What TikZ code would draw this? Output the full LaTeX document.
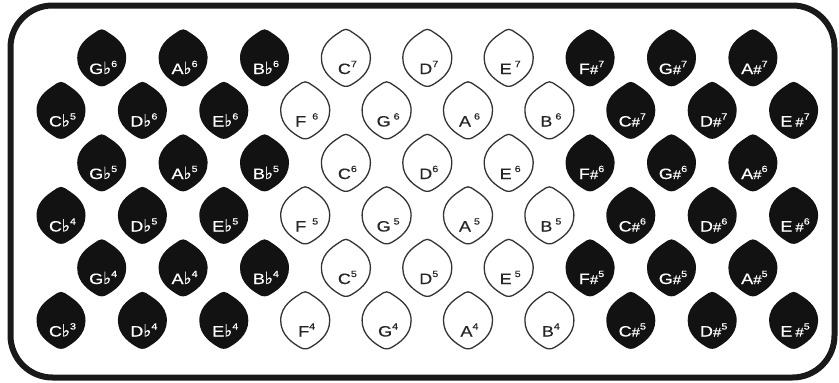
\documentclass[tikz,border=0pt]{standalone}
\usepackage{fontspec}
\setmainfont{Liberation Sans}
\newfontfamily\keyfont[FakeStretch=1.2,FakeBold=0.4]{Liberation Sans}
\newfontfamily\dejavu[FakeBold=0.4]{DejaVu Sans}
\newcommand\fl{{\dejavu\fontsize{17}{17}\selectfont ♭}}
\newcommand\sh{{\fontsize{12.5}{12}\selectfont\#}}
\newcommand\up[1]{\raisebox{7pt}{\fontsize{9}{9}\selectfont #1}}
\newcommand\gp{\hspace{3pt}}
\newcommand\keyoutline{(-3.5,27.6) .. controls (-1.5,29) and (1.5,29) .. (3.5,27.6)
  .. controls (10,23) and (24.5,16) .. (24.5,0)
  .. controls (24.5,-15) and (12,-23) .. (4.5,-27.2)
  .. controls (2,-28.7) and (-2,-28.7) .. (-4.5,-27.2)
  .. controls (-12,-23) and (-24.5,-15) .. (-24.5,0)
  .. controls (-24.5,16) and (-10,23) .. cycle}
\tikzset{
  x=1pt, y=1pt,
  frame/.style={draw=black!90, line width=6pt, rounded corners=42pt, inner sep=0pt},
  keytext/.style={anchor=base, inner sep=0pt, font=\keyfont\fontsize{15}{16}\selectfont},
  pics/bkey/.style={code={
    \path[fill=black!93] \keyoutline;
    \node[keytext, text=white] (-t) at (1.5,-16) {#1};
  }},
  pics/wkey/.style={code={
    \path[draw=black!80, line width=1.3pt, fill=white] \keyoutline;
    \node[keytext, text=black!85] (-t) at (1.5,-16) {#1};
  }},
}
\newcommand\K[7]{\pic (#4) at ({61+40.7*#1},{-#2}) {#3={#5#6\up{#7}}};}
\begin{document}
\begin{tikzpicture}
\useasboundingbox (0,0) rectangle (839,-383);
\node[frame, minimum width=824pt, minimum height=372pt] (frame) at (422.5,-191.5) {};
% row 1
\K{1}{58}{bkey}{gb6}{G}{\fl}{6}
\K{3}{58}{bkey}{ab6}{A}{\fl}{6}
\K{5}{58}{bkey}{bb6}{B}{\fl}{6}
\K{7}{58}{wkey}{c7}{C}{}{7}
\K{9}{58}{wkey}{d7}{D}{}{7}
\K{11}{58}{wkey}{e7}{E}{\gp}{7}
\K{13}{58}{bkey}{fs7}{F}{\sh}{7}
\K{15}{58}{bkey}{gs7}{G}{\sh}{7}
\K{17}{58}{bkey}{as7}{A}{\sh}{7}
% row 2
\K{0}{110.5}{bkey}{cb5}{C}{\fl}{5}
\K{2}{110.5}{bkey}{db6}{D}{\fl}{6}
\K{4}{110.5}{bkey}{eb6}{E}{\fl}{6}
\K{6}{110.5}{wkey}{f6}{F}{\gp\gp}{6}
\K{8}{110.5}{wkey}{g6}{G}{\gp}{6}
\K{10}{110.5}{wkey}{a6}{A}{\gp}{6}
\K{12}{110.5}{wkey}{b6}{B}{\gp}{6}
\K{14}{110.5}{bkey}{cs7}{C}{\sh}{7}
\K{16}{110.5}{bkey}{ds7}{D}{\sh}{7}
\K{18}{110.5}{bkey}{es7}{E}{\gp\sh}{7}
% row 3
\K{1}{163}{bkey}{gb5}{G}{\fl}{5}
\K{3}{163}{bkey}{ab5}{A}{\fl}{5}
\K{5}{163}{bkey}{bb5}{B}{\fl}{5}
\K{7}{163}{wkey}{c6}{C}{}{6}
\K{9}{163}{wkey}{d6}{D}{}{6}
\K{11}{163}{wkey}{e6}{E}{\gp}{6}
\K{13}{163}{bkey}{fs6}{F}{\sh}{6}
\K{15}{163}{bkey}{gs6}{G}{\sh}{6}
\K{17}{163}{bkey}{as6}{A}{\sh}{6}
% row 4
\K{0}{215.5}{bkey}{cb4}{C}{\fl}{4}
\K{2}{215.5}{bkey}{db5}{D}{\fl}{5}
\K{4}{215.5}{bkey}{eb5}{E}{\fl}{5}
\K{6}{215.5}{wkey}{f5}{F}{\gp\gp}{5}
\K{8}{215.5}{wkey}{g5}{G}{\gp}{5}
\K{10}{215.5}{wkey}{a5}{A}{\gp}{5}
\K{12}{215.5}{wkey}{b5}{B}{\gp}{5}
\K{14}{215.5}{bkey}{cs6}{C}{\sh}{6}
\K{16}{215.5}{bkey}{ds6}{D}{\sh}{6}
\K{18}{215.5}{bkey}{es6}{E}{\gp\sh}{6}
% row 5
\K{1}{268}{bkey}{gb4}{G}{\fl}{4}
\K{3}{268}{bkey}{ab4}{A}{\fl}{4}
\K{5}{268}{bkey}{bb4}{B}{\fl}{4}
\K{7}{268}{wkey}{c5}{C}{}{5}
\K{9}{268}{wkey}{d5}{D}{}{5}
\K{11}{268}{wkey}{e5}{E}{\gp}{5}
\K{13}{268}{bkey}{fs5}{F}{\sh}{5}
\K{15}{268}{bkey}{gs5}{G}{\sh}{5}
\K{17}{268}{bkey}{as5}{A}{\sh}{5}
% row 6
\K{0}{320.5}{bkey}{cb3}{C}{\fl}{3}
\K{2}{320.5}{bkey}{db4}{D}{\fl}{4}
\K{4}{320.5}{bkey}{eb4}{E}{\fl}{4}
\K{6}{320.5}{wkey}{f4}{F}{}{4}
\K{8}{320.5}{wkey}{g4}{G}{}{4}
\K{10}{320.5}{wkey}{a4}{A}{}{4}
\K{12}{320.5}{wkey}{b4}{B}{}{4}
\K{14}{320.5}{bkey}{cs5}{C}{\sh}{5}
\K{16}{320.5}{bkey}{ds5}{D}{\sh}{5}
\K{18}{320.5}{bkey}{es5}{E}{\gp\sh}{5}
\end{tikzpicture}
\end{document}
